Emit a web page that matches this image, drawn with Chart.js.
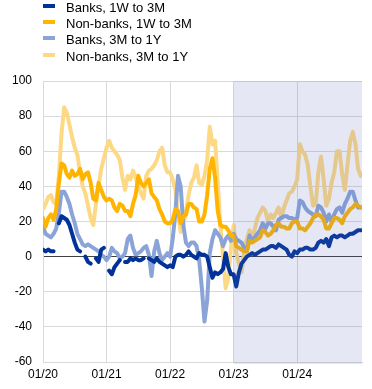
<!DOCTYPE html>
<html>
<head>
<meta charset="utf-8">
<script src="https://cdn.jsdelivr.net/npm/chart.js@4.4.1/dist/chart.umd.min.js"></script>
<style>
  html, body { margin: 0; padding: 0; background: #fff; }
  #wrap { position: relative; width: 372px; height: 389px; }
  #c { position: absolute; left: 0; top: 0; }
  .leg { position: absolute; left: 0; font: 13px "Liberation Sans", Arial, sans-serif; color: #000; line-height: 16px; white-space: nowrap; }
  .leg span.box { position: absolute; left: 43px; top: 4px; width: 12px; height: 4px; }
  .leg span.txt { position: absolute; left: 66px; top: 0; }
</style>
</head>
<body>
<div id="wrap">
  <canvas id="c" width="372" height="389"></canvas>
  <div id="legend"></div>
</div>
<script>
// ---- data ----
const seriesNames = ['Banks, 1W to 3M', 'Non-banks, 1W to 3M', 'Banks, 3M to 1Y', 'Non-banks, 3M to 1Y'];
const seriesColors = ['#003299', '#ffb400', '#8aa4d8', '#fed985'];
const tickYears = [2020, 2021, 2022, 2023, 2024];
const xTickLabels = ['01/20', '01/21', '01/22', '01/23', '01/24'];
const shadeStartYear = 2023;

const dates = [
 '2020-01-01','2020-01-16','2020-02-01','2020-02-16','2020-03-01','2020-03-16','2020-04-01','2020-04-16','2020-05-01','2020-05-16','2020-06-01','2020-06-16',
 '2020-07-01','2020-07-16','2020-08-01','2020-08-16','2020-09-01','2020-09-16','2020-10-01','2020-10-16','2020-11-01','2020-11-16','2020-12-01','2020-12-16',
 '2021-01-01','2021-01-16','2021-02-01','2021-02-16','2021-03-01','2021-03-16','2021-04-01','2021-04-16','2021-05-01','2021-05-16','2021-06-01','2021-06-16',
 '2021-07-01','2021-07-16','2021-08-01','2021-08-16','2021-09-01','2021-09-16','2021-10-01','2021-10-16','2021-11-01','2021-11-16','2021-12-01','2021-12-16',
 '2022-01-01','2022-01-16','2022-02-01','2022-02-16','2022-03-01','2022-03-16','2022-04-01','2022-04-16','2022-05-01','2022-05-16','2022-06-01','2022-06-16',
 '2022-07-01','2022-07-16','2022-08-01','2022-08-16','2022-09-01','2022-09-16','2022-10-01','2022-10-16','2022-11-01','2022-11-16','2022-12-01','2022-12-16',
 '2023-01-01','2023-01-16','2023-02-01','2023-02-16','2023-03-01','2023-03-16','2023-04-01','2023-04-16','2023-05-01','2023-05-16','2023-06-01','2023-06-16',
 '2023-07-01','2023-07-16','2023-08-01','2023-08-16','2023-09-01','2023-09-16','2023-10-01','2023-10-16','2023-11-01','2023-11-16','2023-12-01','2023-12-16',
 '2024-01-01','2024-01-16','2024-02-01','2024-02-16','2024-03-01','2024-03-16','2024-04-01','2024-04-16','2024-05-01','2024-05-16','2024-06-01','2024-06-16',
 '2024-07-01','2024-07-16','2024-08-01','2024-08-16','2024-09-01','2024-09-16','2024-10-01','2024-10-16','2024-11-01','2024-11-16','2024-12-01','2024-12-16',
 '2025-01-01'
];

const banks1W3M = [
 4, 3, 4, 3, 3, null, 19, 23, 22, 21, 18, 13, 8, 4, 3, null, 0, -3, -4, null, -1, -3, 4, 5,
 null, -8, -10, -6, -4, -2, null, -3, -3, -1, -2, -1, -2, -2, -1, null, -1, -2, -3, -1, -3, -4, -5, -6,
 -5, -6, 0, 1, 1, 0, 1, 3, 1, 0, -1, 2, 1, 1, 0, -6, -12, -9, -10, -9, -7, 2, -6, -10,
 -10, -17, -9, -4, -2, 0, 1, 2, 1, 2, 3, 4, 4, 5, 6, 6, 5, 7, 6, 5, 4, 1, 0, 3,
 2, 4, 4, 5, 5, 4, 4, 5, 8, 9, 8, 10, 6, 11, 12, 11, 12, 12, 11, 12, 13, 13, 14, 15,
 15
];
const nonBanks1W3M = [
 22, 17, 22, 24, 21, 27, 42, 53, 52, 47, 45, 49, 46, 47, 50, 44, 47, 48, 42, 33, 32, 42, 38, 34,
 32, 33, 32, 28, 26, 30, 29, 26, 26, 23, 30, 35, 46, 42, 40, 42, 44, 36, 34, 32, 27, 24, 20, 19,
 19, 21, 27, 26, 19, 23, 24, 30, 30, 28, 27, 20, 20, 24, 35, 50, 56, 45, 26, 18, 17, 17, 15, 12,
 12, 6, 5, 4, 3, 3, 9, 8, 9, 10, 11, 15, 14, 12, 13, 15, 18, 19, 17, 17, 16, 16, 19, 20,
 20, 16, 16, 15, 17, 19, 22, 24, 24, 23, 21, 16, 16, 19, 22, 22, 21, 19, 23, 25, 27, 28, 30, 29,
 28
];
const banks3M1Y = [
 17, 13, 12, 11, 13, 16, 25, 37, 37, 34, 30, 24, 19, 13, 10, 7, 6, 7, 6, 5, 4, 3, 1, 0,
 -2, 0, 5, 3, 2, -1, 0, 2, 10, 12, 5, 1, 2, 3, 5, 6, 1, -11, 3, 9, 2, -2, 0, 2,
 0, 10, 25, 46, 40, 18, 8, 6, 8, 8, 6, -2, -18, -37, -25, 2, 10, 15, 13, 11, 6, 10, 12, 9,
 13, 10, 9, 8, 5, 3, 12, 9, 11, 13, 15, 19, 16, 19, 19, 17, 15, 21, 22, 23, 23, 22, 22, 21,
 22, 32, 31, 28, 26, 25, 24, 23, 29, 28, 25, 20, 24, 20, 24, 27, 28, 25, 30, 33, 37, 37, 32, 28,
 28
];
const nonBanks3M1Y = [
 27, 30, 34, 35, 31, 30, 46, 70, 85, 82, 75, 68, 62, 58, 48, 40, 36, 29, 22, 18, 30, 40, 50, 56,
 62, 66, 62, 60, 58, 55, 45, 38, 46, 44, 49, 45, 40, 36, 33, 46, 49, 50, 52, 55, 60, 62, 52, 48,
 48, 44, 38, 24, 14, 18, 26, 35, 42, 45, 52, 42, 41, 46, 55, 74, 64, 66, 42, 18, 0, -18, -12, 5,
 18, 2, -4, -9, 3, 10, 15, 10, 16, 22, 25, 28, 26, 20, 24, 22, 25, 28, 22, 28, 32, 36, 37, 40,
 44, 64, 60, 58, 52, 40, 29, 30, 48, 57, 44, 29, 33, 42, 48, 60, 60, 47, 38, 52, 66, 71, 64, 50,
 46
];
const yTicks = { min: -60, max: 100, step: 20 };

// ---- build ----
function toYear(s) {
  const [y, m, d] = s.split('-').map(Number);
  return y + (m - 1) / 12 + (d - 1) / 365;
}
const xs = dates.map(toYear);
const allSeries = [banks1W3M, nonBanks1W3M, banks3M1Y, nonBanks3M1Y];

// legend (HTML text)
const legendEl = document.getElementById('legend');
seriesNames.forEach((n, i) => {
  const row = document.createElement('div');
  row.className = 'leg';
  row.style.top = (16.2 * i) + 'px';
  row.innerHTML = '<span class="box" style="background:' + seriesColors[i] + '"></span><span class="txt"></span>';
  row.querySelector('.txt').textContent = n;
  legendEl.appendChild(row);
});

const shadePlugin = {
  id: 'shade',
  afterDatasetsDraw(chart) {
    const { ctx, chartArea, scales } = chart;
    const x0 = scales.x.getPixelForValue(shadeStartYear);
    ctx.save();
    ctx.fillStyle = 'rgba(92,111,186,0.16)';
    ctx.fillRect(x0, chartArea.top, chartArea.right - x0, chartArea.bottom - chartArea.top + 2);
    ctx.restore();
  }
};

Chart.defaults.font.family = '"Liberation Sans", Arial, sans-serif';
Chart.defaults.font.size = 12;
Chart.defaults.color = '#000';

new Chart(document.getElementById('c'), {
  type: 'line',
  data: {
    datasets: allSeries.map((s, i) => ({
      label: seriesNames[i],
      data: s.map((v, k) => ({ x: xs[k], y: v })),
      borderColor: seriesColors[i],
      backgroundColor: seriesColors[i],
      borderWidth: 4,
      pointRadius: 0,
      tension: 0,
      spanGaps: false,
      borderCapStyle: 'round',
      borderJoinStyle: 'round'
    }))
  },
  options: {
    responsive: false,
    animation: false,
    layout: { padding: { top: 81, right: 10, left: 0, bottom: 0 } },
    plugins: { legend: { display: false }, tooltip: { enabled: false } },
    scales: {
      x: {
        type: 'linear',
        min: 2020,
        max: 2025.02,
        afterBuildTicks(scale) { scale.ticks = tickYears.map(v => ({ value: v })); },
        afterFit(scale) { scale.height = 27; },
        ticks: {
          autoSkip: false,
          maxRotation: 0,
          padding: 5,
          callback(v) { const i = tickYears.indexOf(v); return i >= 0 ? xTickLabels[i] : ''; }
        },
        grid: { color: '#d9d9d9', drawTicks: false, lineWidth: 1 },
        border: { color: '#d9d9d9' }
      },
      y: {
        min: yTicks.min,
        max: yTicks.max,
        afterFit(scale) { scale.width = 43; },
        ticks: { stepSize: yTicks.step, padding: 11 },
        grid: {
          drawTicks: false,
          color: (c) => (c.tick && c.tick.value === 0) ? '#404040' : '#d9d9d9'
        },
        border: { color: '#d9d9d9' }
      }
    }
  },
  plugins: [shadePlugin]
});
</script>
</body>
</html>
